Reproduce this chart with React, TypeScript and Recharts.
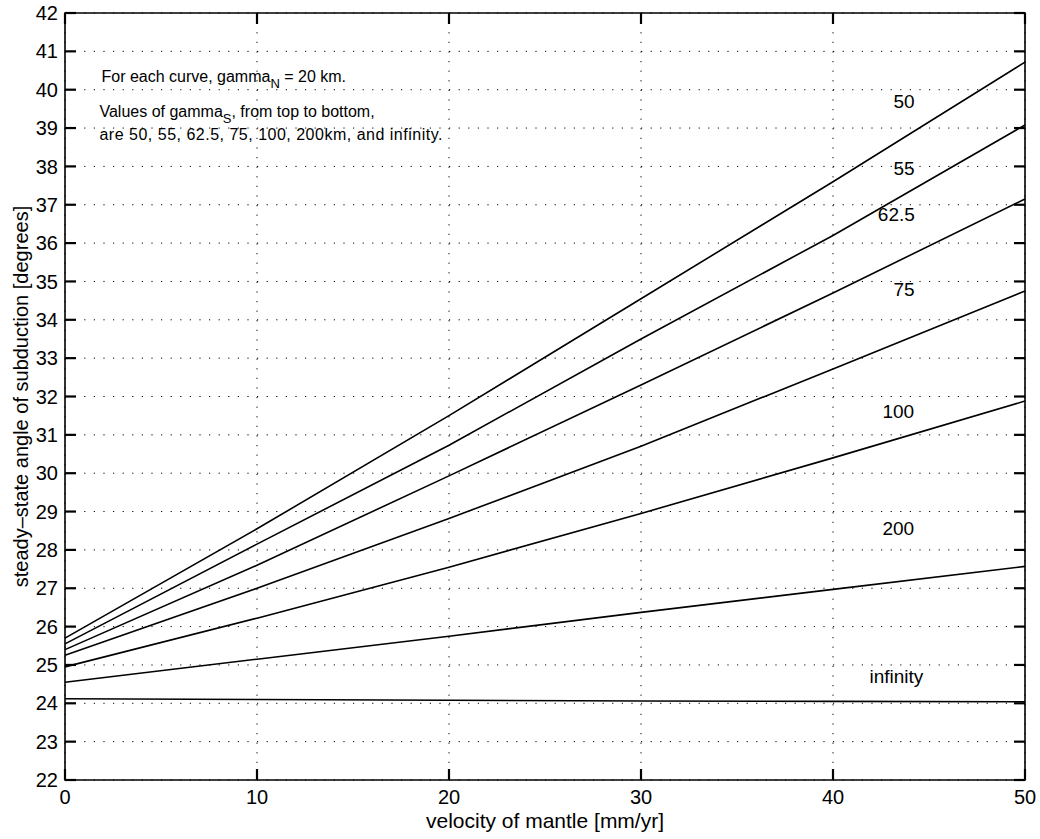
import React from 'react'
import {
  LineChart,
  Line,
  XAxis,
  YAxis,
  CartesianGrid,
  Label,
  ReferenceDot,
  ReferenceArea,
  ReferenceLine,
} from 'recharts'

// mantle velocity [mm/yr]
const velocity = [0, 10, 20, 30, 40, 50]

// steady-state angle [degrees] for each gamma_S
const gamma50 = [25.7, 28.55, 31.5, 34.55, 37.6, 40.72]
const gamma55 = [25.55, 28.15, 30.73, 33.5, 36.2, 39.08]
const gamma62 = [25.4, 27.6, 29.93, 32.3, 34.7, 37.15]
const gamma75 = [25.25, 27.0, 28.82, 30.7, 32.72, 34.75]
const gamma100 = [24.95, 26.22, 27.55, 28.95, 30.4, 31.88]
const gamma200 = [24.55, 25.15, 25.75, 26.37, 26.97, 27.57]
const gammaInf = [24.12, 24.1, 24.08, 24.06, 24.05, 24.04]

const xTicks = [0, 10, 20, 30, 40, 50]
const yTicks = [22, 23, 24, 25, 26, 27, 28, 29, 30, 31, 32, 33, 34, 35, 36, 37, 38, 39, 40, 41, 42]

const seriesKeys = ['g50', 'g55', 'g62', 'g75', 'g100', 'g200', 'gInf']
const seriesValues = [gamma50, gamma55, gamma62, gamma75, gamma100, gamma200, gammaInf]

// curve labels and where they sit, in data units
const curveLabels = ['50', '55', '62.5', '75', '100', '200', 'infinity']
const curveLabelAt = [
  [43.7, 39.7],
  [43.7, 37.95],
  [43.3, 36.75],
  [43.7, 34.8],
  [43.4, 31.6],
  [43.4, 28.55],
  [43.3, 24.69],
]

const data = velocity.map((v, i) => {
  const row: Record<string, number> = { v }
  seriesKeys.forEach((k, j) => {
    row[k] = seriesValues[j][i]
  })
  return row
})

const X_MIN = 0
const X_MAX = 50
const Y_MIN = 22
const Y_MAX = 42

// chart box
const W = 1040
const H = 839
const M = { top: 13, right: 15, bottom: 0, left: 0 }
const Y_AXIS_W = 65
const X_AXIS_H = 59
const PLOT_LEFT = M.left + Y_AXIS_W
const PLOT_BOTTOM = H - M.bottom - X_AXIS_H
const PLOT_W = W - M.right - PLOT_LEFT
const PLOT_H = PLOT_BOTTOM - M.top

// inward tick marks, 11px long, expressed in axis units
const TICK_X = (11 / PLOT_W) * (X_MAX - X_MIN)
const TICK_Y = (11 / PLOT_H) * (Y_MAX - Y_MIN)

const FONT = '"Liberation Sans", Arial, Helvetica, sans-serif'
const tickText = { fontFamily: FONT, fontSize: 20, fill: '#000' }

function YTick({ y, payload }: any) {
  const cy = payload.coordinate ?? y
  return (
    <text x={PLOT_LEFT - 7} y={cy} dy="0.355em" textAnchor="end" style={tickText}>
      {payload.value}
    </text>
  )
}

function XTick({ x, payload }: any) {
  const cx = payload.coordinate ?? x
  return (
    <text x={cx} y={PLOT_BOTTOM + 10} dy="0.71em" textAnchor="middle" style={tickText}>
      {payload.value}
    </text>
  )
}

function Note({ viewBox }: any) {
  const x = viewBox.x
  const y = viewBox.y
  const style = { fontFamily: FONT, fontSize: 16, fill: '#000' }
  const sub = { fontSize: 13, fill: '#000' }
  return (
    <g>
      <text x={x} y={y} style={style}>
        For each curve, gamma
        <tspan dy={6} style={sub}>N</tspan>
        <tspan dy={-6} style={{ fill: '#000' }}> = 20 km.</tspan>
      </text>
      <text x={x - 2} y={y + 35} style={style}>
        Values of gamma
        <tspan dy={6} style={sub}>S</tspan>
        <tspan dy={-6} style={{ fill: '#000' }}>, from top to bottom,</tspan>
      </text>
      <text x={x - 2} y={y + 58} style={{ ...style, letterSpacing: 0.5 }}>
        are 50, 55, 62.5, 75, 100, 200km, and infinity.
      </text>
    </g>
  )
}

function CurveLabel({ viewBox, value }: any) {
  return (
    <text
      x={viewBox.x}
      y={viewBox.y}
      textAnchor="middle"
      dominantBaseline="central"
      style={{ fontFamily: FONT, fontSize: 19, fill: '#000' }}
    >
      {value}
    </text>
  )
}

// one short solid segment of the frame's tick marks
function tickSeg(key: string, a: { x: number; y: number }, b: { x: number; y: number }) {
  return (
    <ReferenceLine
      key={key}
      segment={[a, b]}
      stroke="#000"
      strokeWidth={2.2}
      ifOverflow="visible"
    />
  )
}

export default function App() {
  return (
    <div style={{ position: 'absolute', left: 0, top: 0, background: '#fff' }}>
      <LineChart width={W} height={H} data={data} margin={M} style={{ fontFamily: FONT }}>
        <CartesianGrid
          stroke="#000"
          strokeWidth={1}
          strokeDasharray="1.2 8.4"
          verticalValues={xTicks}
          horizontalValues={yTicks}
        />
        <XAxis
          dataKey="v"
          type="number"
          domain={[X_MIN, X_MAX]}
          ticks={xTicks}
          height={X_AXIS_H}
          tickSize={0}
          tickLine={false}
          axisLine={false}
          tick={<XTick />}
        >
          <Label
            value="velocity of mantle [mm/yr]"
            position="insideBottom"
            offset={11}
            style={{ fill: '#000', fontSize: 21, fontFamily: FONT }}
          />
        </XAxis>
        <YAxis
          type="number"
          domain={[Y_MIN, Y_MAX]}
          ticks={yTicks}
          width={Y_AXIS_W}
          tickSize={0}
          tickLine={false}
          axisLine={false}
          interval={0}
          tick={<YTick />}
        >
          <Label
            value="steady–state angle of subduction [degrees]"
            angle={-90}
            position="insideLeft"
            offset={21}
            style={{ textAnchor: 'middle', fill: '#000', fontSize: 20, fontFamily: FONT }}
          />
        </YAxis>

        {/* plot frame */}
        <ReferenceArea
          x1={X_MIN}
          x2={X_MAX}
          y1={Y_MIN}
          y2={Y_MAX}
          fill="none"
          fillOpacity={0}
          stroke="#000"
          strokeWidth={1.6}
        />

        {/* tick marks pointing into the frame on all four sides */}
        {yTicks.map((v) => tickSeg(`yl${v}`, { x: X_MIN, y: v }, { x: X_MIN + TICK_X, y: v }))}
        {yTicks.map((v) => tickSeg(`yr${v}`, { x: X_MAX - TICK_X, y: v }, { x: X_MAX, y: v }))}
        {xTicks.map((v) => tickSeg(`xb${v}`, { x: v, y: Y_MIN }, { x: v, y: Y_MIN + TICK_Y }))}
        {xTicks.map((v) => tickSeg(`xt${v}`, { x: v, y: Y_MAX - TICK_Y }, { x: v, y: Y_MAX }))}

        {seriesKeys.map((k) => (
          <Line
            key={k}
            dataKey={k}
            type="linear"
            stroke="#000"
            strokeWidth={1.6}
            dot={false}
            isAnimationActive={false}
          />
        ))}

        {curveLabels.map((t, i) => (
          <ReferenceDot
            key={t}
            x={curveLabelAt[i][0]}
            y={curveLabelAt[i][1]}
            r={0}
            fill="none"
            stroke="none"
            label={<CurveLabel value={t} />}
          />
        ))}

        <ReferenceDot x={1.9} y={40.2} r={0} fill="none" stroke="none" label={<Note />} />
      </LineChart>
    </div>
  )
}
